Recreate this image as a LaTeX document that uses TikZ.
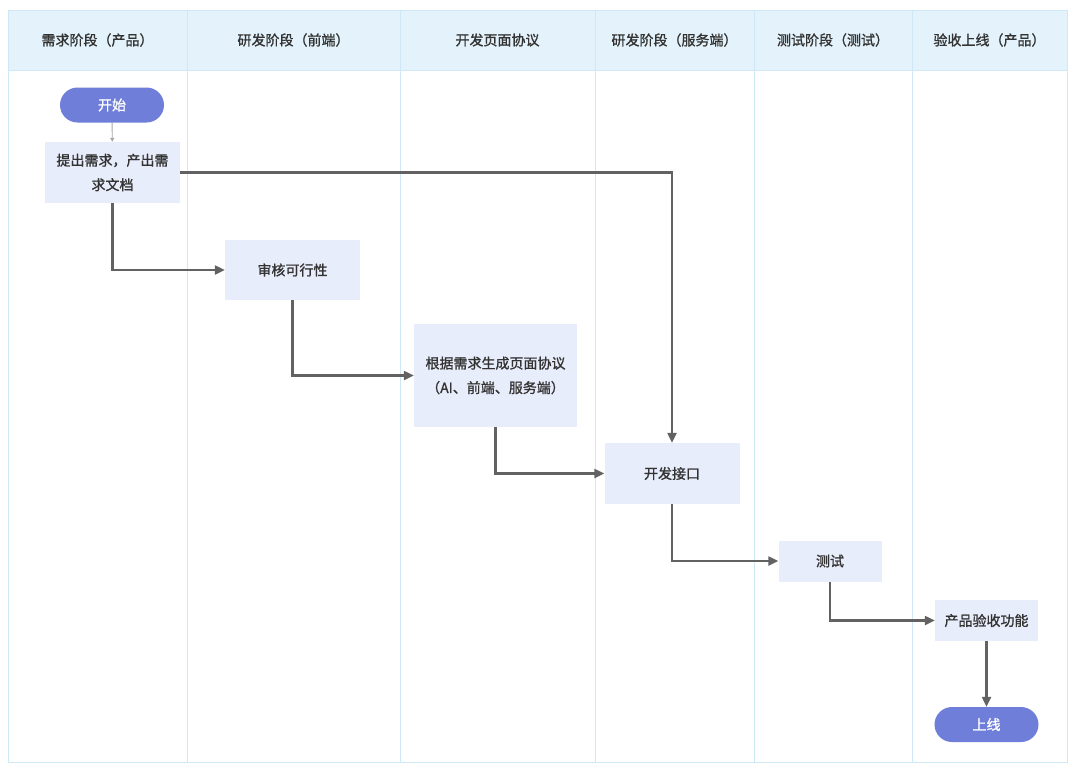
\documentclass[tikz,border=0pt]{standalone}
\usepackage{fontspec}
\setmainfont{Noto Sans CJK SC}[FakeBold=1.2]
\usetikzlibrary{arrows.meta,positioning}
\definecolor{laneline}{HTML}{CFE8F6}
\definecolor{headfill}{HTML}{E4F3FB}
\definecolor{boxfill}{HTML}{E8EDFB}
\definecolor{pillfill}{HTML}{6F7FD9}
\definecolor{flowline}{HTML}{626262}
\definecolor{txt}{HTML}{333333}

\begin{document}
\begin{tikzpicture}[x=1pt,y=-1pt,
    every node/.style={font=\fontsize{14}{24.5}\selectfont, text=txt},
    stepbox/.style={fill=boxfill, minimum width=135pt, minimum height=61pt, align=center, inner sep=0pt},
    pill/.style={fill=pillfill, rounded corners=17.5pt, minimum width=104pt, minimum height=35pt, text=white, inner sep=0pt},
    flow/.style={draw=flowline, line width=2.2pt, -{Triangle[length=10pt,width=9pt]}}]
    \useasboundingbox (0,0) rectangle (1080,777);
    \fill[white] (0,0) rectangle (1080,777);
    % lanes
    \fill[headfill] (8,10) rectangle (1067,70);
    \draw[laneline, line width=1pt] (8,10) rectangle (1067,762);
    \draw[laneline, line width=1pt] (8,70) -- (1067,70);
    \foreach \x in {187,400,595,754,912}
      \draw[laneline, line width=1pt] (\x,10) -- (\x,762);
    \node (H1) at (97.5,40) {需求阶段（产品）};
    \node (H2) at (293.5,40) {研发阶段（前端）};
    \node (H3) at (497.5,40) {开发页面协议};
    \node (H4) at (674.5,40) {研发阶段（服务端）};
    \node (H5) at (833,40) {测试阶段（测试）};
    \node (H6) at (989.5,40) {验收上线（产品）};
    % steps
    \node[pill] (S) at (112,105) {开始};
    \node[stepbox] (A) at (112.5,172.5) {提出需求，产出需\\求文档};
    \node[stepbox, minimum height=60pt] (B) at (292.5,270) {审核可行性};
    \node[stepbox, minimum width=163pt, minimum height=103pt] (C) at (495.5,375.5) {根据需求生成页面协议\\（AI、前端、服务端）};
    \node[stepbox] (D) at (672,473.5) {开发接口};
    \node[stepbox, minimum width=103pt, minimum height=41pt] (E) at (830,561) {测试};
    \node[stepbox, minimum width=103pt, minimum height=41pt] (F) at (986.5,620.5) {产品验收功能};
    \node[pill] (G) at (986.5,724.5) {上线};
    % connectors
    \draw[draw=gray!70, line width=0.9pt, -{Triangle[length=4pt,width=4pt]}] (S) -- (A);
    \draw[flow] (A.east) -| (D.north);
    \draw[flow] (A.south) |- (B.west);
    \draw[flow] (B.south) |- (C.west);
    \draw[flow] (C.south) |- (D.west);
    \draw[flow] (D.south) |- (E.west);
    \draw[flow] (E.south) |- (F.west);
    \draw[flow] (F) -- (G);
\end{tikzpicture}
\end{document}
